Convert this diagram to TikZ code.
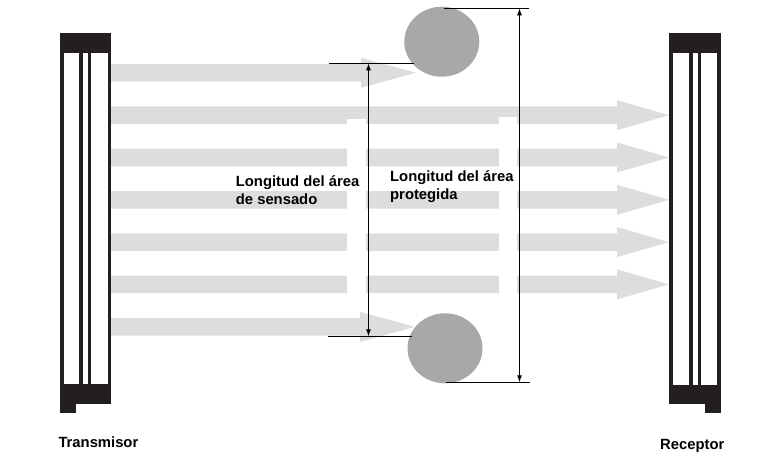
\documentclass[tikz,border=0pt]{standalone}
\usepackage{fontspec}
\setmainfont{Liberation Sans}
\usetikzlibrary{arrows.meta,shapes.geometric}
\definecolor{beamgray}{HTML}{DCDDDF}
\definecolor{objgray}{HTML}{A8A8AB}
\definecolor{dark}{HTML}{231F20}
\begin{document}
\begin{tikzpicture}[x=1pt,y=-1pt,
  lbl/.style={inner sep=0pt,anchor=base west,font=\fontsize{14.8}{18}\selectfont\bfseries},
  dimline/.style={draw=black,line width=0.9pt,{Latex[length=7pt,width=5pt]}-{Latex[length=7pt,width=5pt]}},
  extline/.style={draw=black,line width=0.9pt},
  obj/.style={ellipse,fill=objgray,inner sep=0pt,minimum width=75pt,minimum height=70pt}]
\useasboundingbox (0,0) rectangle (779,475);
% beams
\foreach \yc/\xb/\xt in {72.8/361/416, 326.8/360/415}{
  \fill[beamgray] (111,\yc-8.8) -- (\xb,\yc-8.8) -- (\xb,\yc-15) -- (\xt,\yc) -- (\xb,\yc+15) -- (\xb,\yc+8.8) -- (111,\yc+8.8) -- cycle;
}
\foreach \yc in {115.2,157.5,199.8,242.1,284.4}{
  \fill[beamgray] (111,\yc-8.8) -- (617,\yc-8.8) -- (617,\yc-15) -- (669,\yc) -- (617,\yc+15) -- (617,\yc+8.8) -- (111,\yc+8.8) -- cycle;
}
% gaps
\fill[white] (347,119) rectangle (366,296);
\fill[white] (499,116.7) rectangle (517.3,296);
% transmitter
\begin{scope}[fill=dark]
\fill (60,33) rectangle (63.5,404);
\fill (79,33) rectangle (82.5,404);
\fill (87.5,33) rectangle (91,404);
\fill (107.5,33) rectangle (111,404);
\fill (60,33) rectangle (111,53);
\fill (60,384) rectangle (111,404);
\fill (60,404) rectangle (76,413);
% receiver
\fill (669,33) rectangle (673,404);
\fill (689,33) rectangle (693,404);
\fill (697.7,33) rectangle (701.3,404);
\fill (717.3,33) rectangle (720.7,404);
\fill (669,33) rectangle (720.7,53);
\fill (669,385) rectangle (720.7,404);
\fill (705,404) rectangle (720.7,413);
\end{scope}
% objects
\node[obj] (objT) at (441.8,41.7) {};
\node[obj] (objB) at (445,348.3) {};
% dimension: sensing
\coordinate (sT) at (368.5,63.3);
\coordinate (sB) at (368.5,336.3);
\coordinate (sTl) at (329,63.3);
\coordinate (sTr) at (414,63.3);
\coordinate (sBl) at (328,336.3);
\coordinate (sBr) at (412,336.3);
\draw[extline] (sTl) -- (sTr);
\draw[extline] (sBl) -- (sBr);
\draw[dimline] (sT) -- (sB);
% dimension: protected
\coordinate (pT) at (519.5,8.3);
\coordinate (pB) at (519.5,382.3);
\coordinate (pTl) at (444,8.3);
\coordinate (pTr) at (529,8.3);
\coordinate (pBl) at (446,382.3);
\coordinate (pBr) at (530,382.3);
\draw[extline] (pTl) -- (pTr);
\draw[extline] (pBl) -- (pBr);
\draw[dimline] (pT) -- (pB);
% labels
\node[lbl] (s1) at (235.7,186) {Longitud del área};
\node[lbl] (s2) at (235.7,204) {de sensado};
\node[lbl] (p1) at (390,181) {Longitud del área};
\node[lbl] (p2) at (390,199) {protegida};
\node[lbl] (tx) at (58.3,447.7) {Transmisor};
\node[lbl] (rx) at (660,449) {Receptor};
\end{tikzpicture}
\end{document}
